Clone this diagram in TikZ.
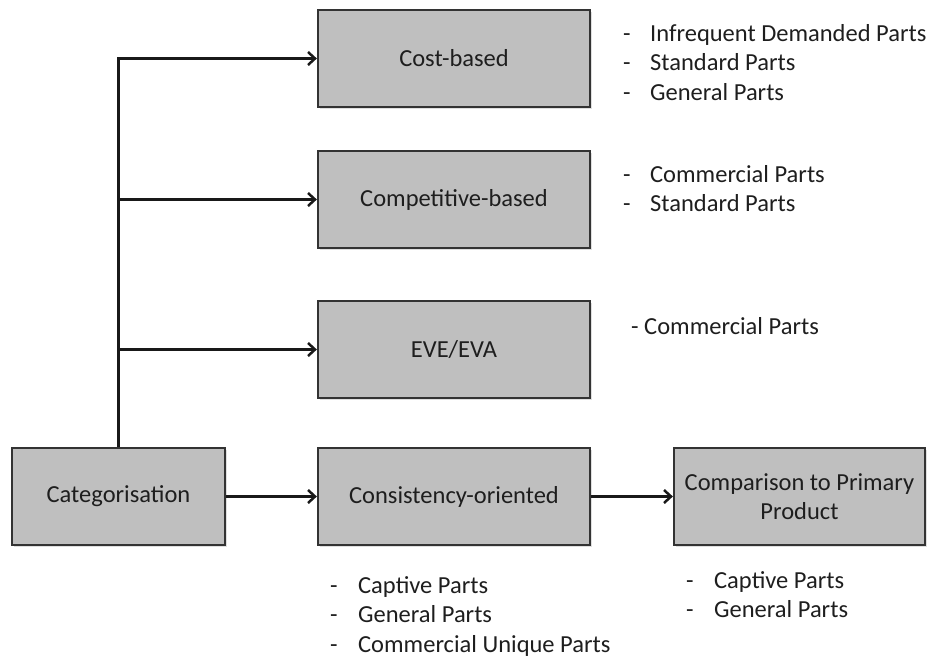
\documentclass[tikz,border=0pt]{standalone}
\usepackage{fontspec}
\setmainfont{Carlito}
\usetikzlibrary{arrows.meta,shadows}
\definecolor{boxfill}{HTML}{BFBFBF}
\definecolor{boxline}{HTML}{333333}
\definecolor{ink}{HTML}{1E1E1E}
\begin{document}
\begin{tikzpicture}[x=1pt,y=-1pt,
  every node/.style={text=ink,font=\fontsize{24.5}{29.5}\selectfont},
  box/.style={draw=boxline,line width=2.3pt,fill=boxfill,minimum height=97pt,
    align=center,inner sep=0pt,
    drop shadow={opacity=0.25,shadow xshift=1.5pt,shadow yshift=-1.5pt}},
  conn/.style={draw=black!90,line width=3pt,
    -{Straight Barb[length=7pt,width=13pt,line width=2.5pt]}},
  listtext/.style={anchor=base west,inner sep=0pt}]
\useasboundingbox (0,0) rectangle (931,657);

% boxes
\node[box,minimum width=272pt] (cost) at (454,58.5) {Cost-based};
\node[box,minimum width=272pt] (comp) at (454,199.5) {Competitive-based};
\node[box,minimum width=272pt] (eve)  at (454,349.5) {EVE/EVA};
\node[box,minimum width=272pt] (cons) at (454,496.5) {Consistency-oriented};
\node[box,minimum width=213pt] (cat)  at (118.5,496.5) {Categorisation};
\node[box,minimum width=251pt] (prim) at (799.5,496.5)
  {\fontsize{24.5}{27.5}\selectfont Comparison to Primary\\Product};

% connectors
\draw[conn] (cat.north) |- (cost.west);
\draw[conn] (cat.north) |- (comp.west);
\draw[conn] (cat.north) |- (eve.west);
\draw[conn] (cat.east) -- (cons.west);
\draw[conn] (cons.east) -- (prim.west);

% part lists
\node[listtext] (costlist) at (623,41)
  {\begin{tabular}[t]{@{}p{27pt}@{}l@{}}-&Infrequent Demanded Parts\\-&Standard Parts\\-&General Parts\end{tabular}};
\node[listtext] (complist) at (623,182)
  {\begin{tabular}[t]{@{}p{27pt}@{}l@{}}-&Commercial Parts\\-&Standard Parts\end{tabular}};
\node[listtext] (evelist) at (631,334) {- Commercial Parts};
\node[listtext] (conslist) at (330,593)
  {\begin{tabular}[t]{@{}p{28pt}@{}l@{}}-&Captive Parts\\-&General Parts\\-&Commercial Unique Parts\end{tabular}};
\node[listtext] (primlist) at (686,588)
  {\begin{tabular}[t]{@{}p{28pt}@{}l@{}}-&Captive Parts\\-&General Parts\end{tabular}};
\end{tikzpicture}
\end{document}
